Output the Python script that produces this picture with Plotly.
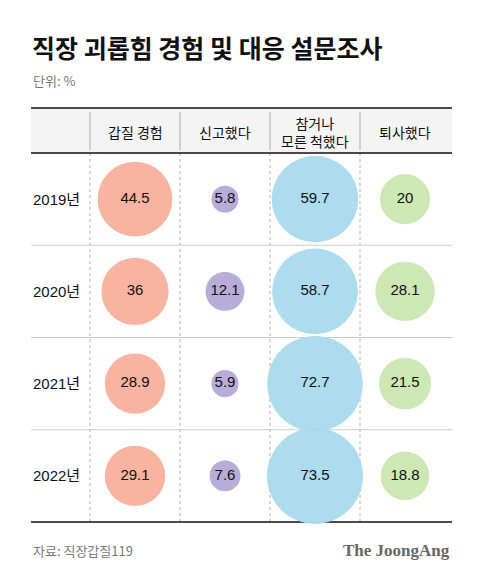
import plotly.graph_objects as go

# ---- data ----
years = ["2019년", "2020년", "2021년", "2022년"]
columns = ["갑질 경험", "신고했다", "참거나<br>모른 척했다", "퇴사했다"]
gapjil = [44.5, 36, 28.9, 29.1]
singo = [5.8, 12.1, 5.9, 7.6]
chamgeona = [59.7, 58.7, 72.7, 73.5]
toesa = [20, 28.1, 21.5, 18.8]
series = [gapjil, singo, chamgeona, toesa]
colors = ["#F8B29D", "#B5AAD7", "#A9DBEC", "#CCE7B3"]

PAGE_W, PAGE_H = 480, 578
OFF = 8  # default body margin of the page
W, H = PAGE_W - 2 * OFF, PAGE_H - 2 * OFF
L, R = 31, 452
TOP, HB, BOT = 108, 153, 522
COLX0, COLW = 135, 90
ROWH = (BOT - HB) / 4
ROWY0 = HB + ROWH / 2
K = 11.2  # px diameter per sqrt(value)

def px(x):
    return (x - OFF) / W

def py(y):
    return 1 - (y - OFF) / H

fig = go.Figure()

shapes = []
shapes.append(dict(type="rect", xref="paper", yref="paper", x0=px(L), x1=px(R), y0=py(HB), y1=py(TOP),
                   fillcolor="#F4F4F4", line=dict(width=0), layer="below"))
for i in range(4):
    xv = COLX0 - COLW / 2 + COLW * i
    shapes.append(dict(type="line", xref="paper", yref="paper", x0=px(xv), x1=px(xv), y0=py(TOP + 4), y1=py(HB - 3),
                       line=dict(color="#AAAAAA", width=1), layer="below"))
    shapes.append(dict(type="line", xref="paper", yref="paper", x0=px(xv), x1=px(xv), y0=py(HB), y1=py(BOT),
                       line=dict(color="#B0B0B0", width=1, dash="dot"), layer="below"))
for j in range(1, 4):
    yv = HB + ROWH * j
    shapes.append(dict(type="line", xref="paper", yref="paper", x0=px(L), x1=px(R), y0=py(yv), y1=py(yv),
                       line=dict(color="#CCCCCC", width=1), layer="below"))
for yv in (TOP, HB, BOT):
    shapes.append(dict(type="line", xref="paper", yref="paper", x0=px(L), x1=px(R), y0=py(yv), y1=py(yv),
                       line=dict(color="#111111", width=1.5), layer="below"))

numfont = "Liberation Sans, Arial, Noto Sans CJK KR, sans-serif"
for ci, (vals, col) in enumerate(zip(series, colors)):
    fig.add_trace(go.Scatter(
        x=[ci] * len(vals), y=list(range(len(vals))),
        mode="markers+text",
        marker=dict(size=[K * v ** 0.5 for v in vals], sizemode="diameter", color=col,
                    opacity=0.97, line=dict(width=0)),
        text=[f"{v:g}" for v in vals], textposition="middle center",
        textfont=dict(family=numfont, size=15, color="#111111"),
        hoverinfo="skip", showlegend=False, cliponaxis=False,
    ))

# axes: data index -> page pixel
xr0 = (OFF - COLX0) / COLW
xr1 = (OFF + W - COLX0) / COLW
yr_top = (OFF - ROWY0) / ROWH
yr_bot = (OFF + H - ROWY0) / ROWH
fig.update_xaxes(range=[xr0, xr1], visible=False, domain=[0, 1])
fig.update_yaxes(range=[yr_bot, yr_top], visible=False, domain=[0, 1])

font = "Noto Sans CJK KR, Noto Sans, sans-serif"
ann = []
ann.append(dict(text="<b>직장 괴롭힘 경험 및 대응 설문조사</b>", x=px(L - 1), y=py(47), xref="paper", yref="paper",
                xanchor="left", yanchor="middle", showarrow=False,
                font=dict(family=font, size=25, color="#111111")))
ann.append(dict(text="단위: %", x=px(L), y=py(80), xref="paper", yref="paper",
                xanchor="left", yanchor="middle", showarrow=False,
                font=dict(family=font, size=13, color="#777777")))
for i, c in enumerate(columns):
    ann.append(dict(text=c, x=i, y=py((TOP + HB) / 2 + 1), xref="x", yref="paper",
                    xanchor="center", yanchor="middle", showarrow=False,
                    font=dict(family=font, size=14, color="#111111")))
for j, yname in enumerate(years):
    ann.append(dict(text=yname, x=px(L), y=j, xref="paper", yref="y",
                    xanchor="left", yanchor="middle", showarrow=False,
                    font=dict(family=numfont, size=15, color="#111111")))
ann.append(dict(text="자료: 직장갑질119", x=px(L), y=py(550), xref="paper", yref="paper",
                xanchor="left", yanchor="middle", showarrow=False,
                font=dict(family=font, size=13, color="#777777")))
ann.append(dict(text="<b>The JoongAng</b>", x=px(R), y=py(550), xref="paper", yref="paper",
                xanchor="right", yanchor="middle", showarrow=False,
                font=dict(family="Liberation Serif, DejaVu Serif, serif", size=17, color="#666666")))

fig.update_layout(width=W, height=H, margin=dict(l=0, r=0, t=0, b=0),
                  paper_bgcolor="white", plot_bgcolor="white",
                  shapes=shapes, annotations=ann)

fig.write_html("out.html")
